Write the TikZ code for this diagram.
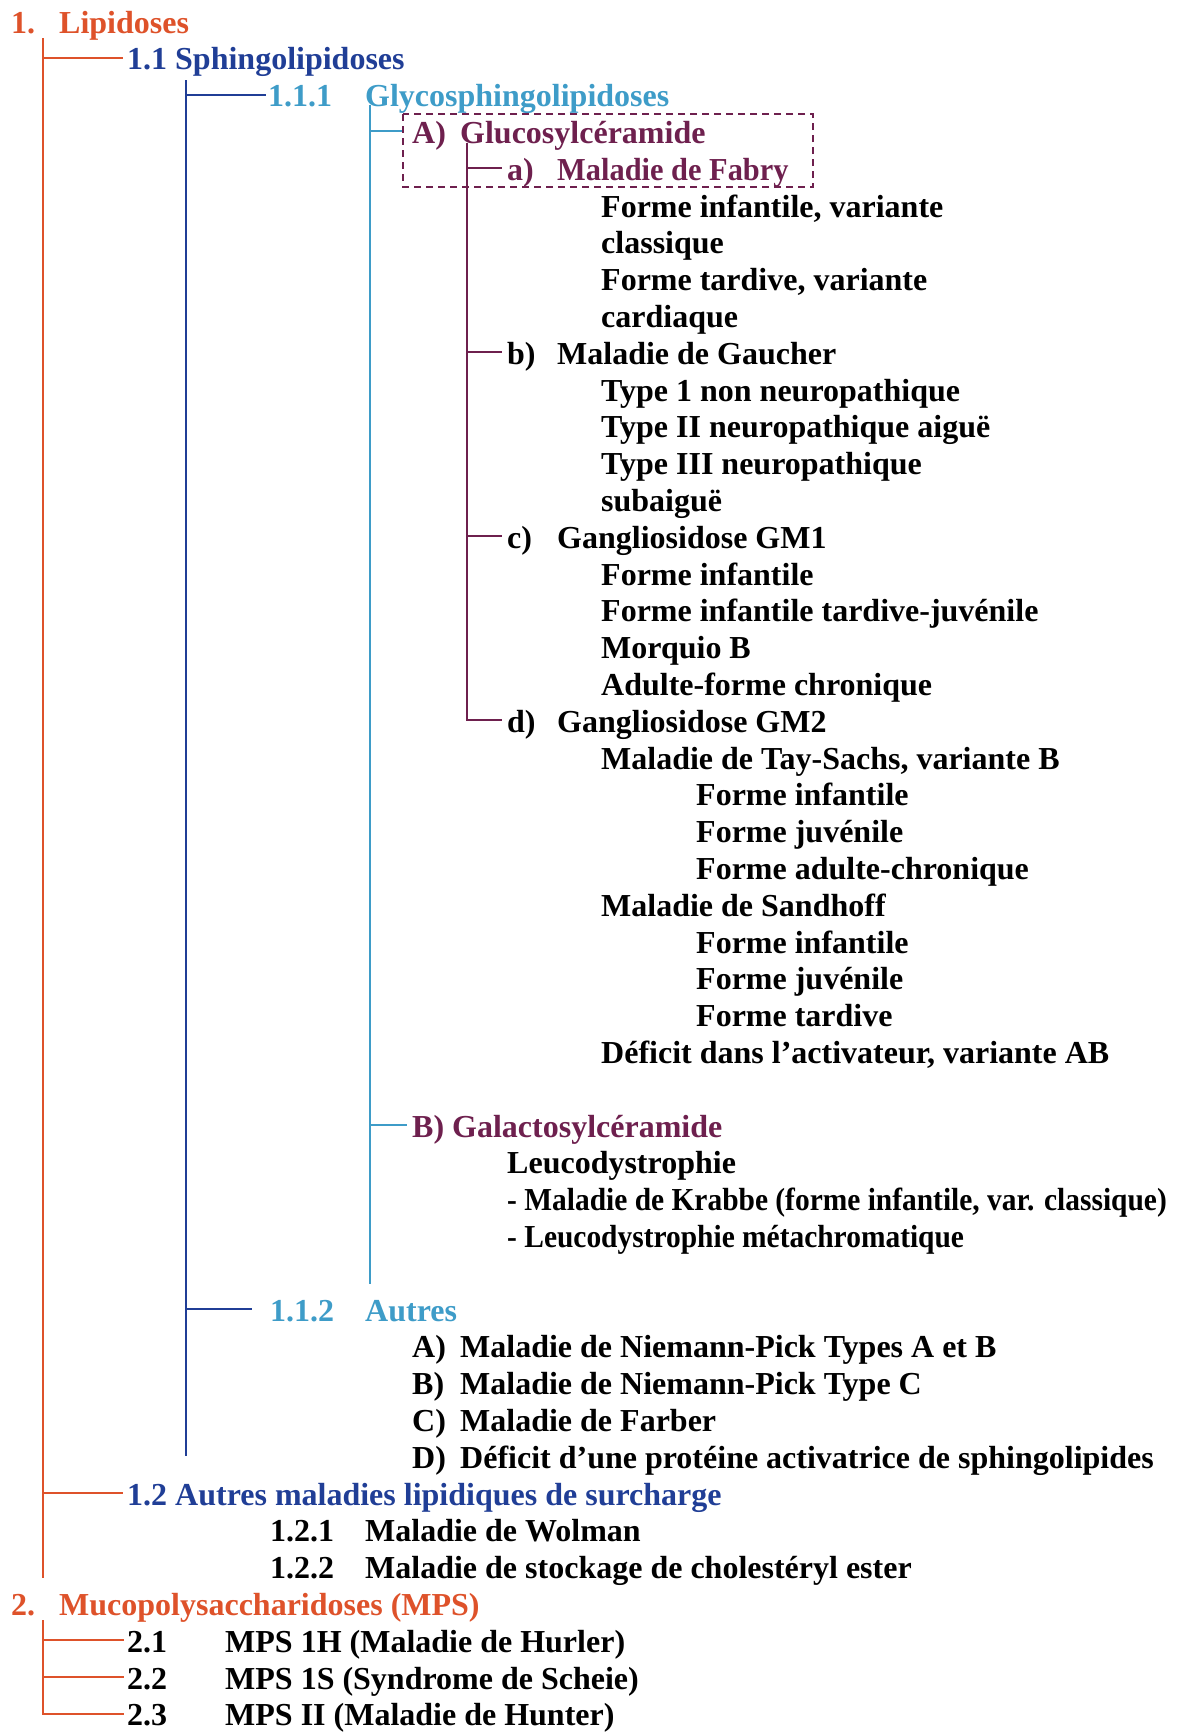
\documentclass[tikz,border=0pt]{standalone}
\usepackage{fontspec}
\setmainfont{Liberation Serif}
\usetikzlibrary{calc}

\definecolor{lvlone}{RGB}{222,82,42}
\definecolor{lvltwo}{RGB}{32,62,150}
\definecolor{lvlthree}{RGB}{62,156,200}
\definecolor{lvlfour}{RGB}{110,32,78}

\begin{document}
\begin{tikzpicture}[x=1pt, y=-1pt,
    entry/.style={anchor=base west, inner sep=0pt, text height=24pt,
        text depth=0pt, font=\fontsize{32}{37}\selectfont\bfseries},
    narrowentry/.style={entry,
        font=\fontsize{32}{37}\selectfont\bfseries\addfontfeatures{FakeStretch=#1}},
    narrowentry/.default=0.92,
    branch/.style={line width=2pt}]

    \useasboundingbox (0,0) rectangle (1184,1735);

    % Baseline of row k is \rowzero + k*\rowgap
    \pgfmathsetmacro{\rowzero}{33}
    \pgfmathsetmacro{\rowgap}{36.8}

    % Level 1 and 1.1
    \node[entry, text=lvlone] (numOne) at (11, \rowzero) {1.};
    \node[entry, text=lvlone] (lipid) at (59, \rowzero) {Lipidoses};
    \node[entry, text=lvltwo] (sphingo) at (127, \rowzero+1*\rowgap) {1.1 Sphingolipidoses};
    \node[entry, text=lvlthree] (numGlyco) at (268, \rowzero+2*\rowgap) {1.1.1};
    \node[entry, text=lvlthree] (glyco) at (365, \rowzero+2*\rowgap) {Glycosphingolipidoses};

    % A) Glucosylceramide
    \node[entry, text=lvlfour] (letA) at (412, \rowzero+3*\rowgap) {A)};
    \node[entry, text=lvlfour] (gluco) at (460, \rowzero+3*\rowgap) {Glucosylcéramide};

    \node[entry, text=lvlfour] (leta) at (507, \rowzero+4*\rowgap) {a)};
    \node[narrowentry=0.95, text=lvlfour] (fabry) at (557, \rowzero+4*\rowgap) {Maladie de Fabry};
    \node[entry] (fabryA) at (601, \rowzero+5*\rowgap) {Forme infantile, variante};
    \node[entry] (fabryB) at (601, \rowzero+6*\rowgap) {classique};
    \node[entry] (fabryC) at (601, \rowzero+7*\rowgap) {Forme tardive, variante};
    \node[entry] (fabryD) at (601, \rowzero+8*\rowgap) {cardiaque};

    \node[entry] (letb) at (507, \rowzero+9*\rowgap) {b)};
    \node[entry] (gaucher) at (557, \rowzero+9*\rowgap) {Maladie de Gaucher};
    \node[entry] (gaucherA) at (601, \rowzero+10*\rowgap) {Type 1 non neuropathique};
    \node[entry] (gaucherB) at (601, \rowzero+11*\rowgap) {Type II neuropathique aiguë};
    \node[entry] (gaucherC) at (601, \rowzero+12*\rowgap) {Type III neuropathique};
    \node[entry] (gaucherD) at (601, \rowzero+13*\rowgap) {subaiguë};

    \node[entry] (letc) at (507, \rowzero+14*\rowgap) {c)};
    \node[entry] (gmOne) at (557, \rowzero+14*\rowgap) {Gangliosidose GM1};
    \node[entry] (gmOneA) at (601, \rowzero+15*\rowgap) {Forme infantile};
    \node[entry] (gmOneB) at (601, \rowzero+16*\rowgap) {Forme infantile tardive-juvénile};
    \node[entry] (gmOneC) at (601, \rowzero+17*\rowgap) {Morquio B};
    \node[entry] (gmOneD) at (601, \rowzero+18*\rowgap) {Adulte-forme chronique};

    \node[entry] (letd) at (507, \rowzero+19*\rowgap) {d)};
    \node[entry] (gmTwo) at (557, \rowzero+19*\rowgap) {Gangliosidose GM2};
    \node[entry] (taySachs) at (601, \rowzero+20*\rowgap) {Maladie de Tay-Sachs, variante B};
    \node[entry] (taySachsA) at (696, \rowzero+21*\rowgap) {Forme infantile};
    \node[entry] (taySachsB) at (696, \rowzero+22*\rowgap) {Forme juvénile};
    \node[entry] (taySachsC) at (696, \rowzero+23*\rowgap) {Forme adulte-chronique};
    \node[entry] (sandhoff) at (601, \rowzero+24*\rowgap) {Maladie de Sandhoff};
    \node[entry] (sandhoffA) at (696, \rowzero+25*\rowgap) {Forme infantile};
    \node[entry] (sandhoffB) at (696, \rowzero+26*\rowgap) {Forme juvénile};
    \node[entry] (sandhoffC) at (696, \rowzero+27*\rowgap) {Forme tardive};
    \node[entry] (activ) at (601, \rowzero+28*\rowgap) {Déficit dans l’activateur, variante AB};

    % B) Galactosylceramide
    \node[entry, text=lvlfour] (galacto) at (412, \rowzero+30*\rowgap) {B) Galactosylcéramide};
    \node[entry] (leuco) at (507, \rowzero+31*\rowgap) {Leucodystrophie};
    \node[narrowentry] (krabbe) at (507, \rowzero+32*\rowgap) {- Maladie de Krabbe (forme infantile, var. classique)};
    \node[narrowentry] (metachro) at (507, \rowzero+33*\rowgap) {- Leucodystrophie métachromatique};

    % 1.1.2 Autres
    \node[entry, text=lvlthree] (numAutres) at (270, \rowzero+35*\rowgap) {1.1.2};
    \node[entry, text=lvlthree] (autres) at (365, \rowzero+35*\rowgap) {Autres};
    \node[entry] (letNA) at (412, \rowzero+36*\rowgap) {A)};
    \node[entry] (niemannAB) at (460, \rowzero+36*\rowgap) {Maladie de Niemann-Pick Types A et B};
    \node[entry] (letNB) at (412, \rowzero+37*\rowgap) {B)};
    \node[entry] (niemannC) at (460, \rowzero+37*\rowgap) {Maladie de Niemann-Pick Type C};
    \node[entry] (letNC) at (412, \rowzero+38*\rowgap) {C)};
    \node[entry] (farber) at (460, \rowzero+38*\rowgap) {Maladie de Farber};
    \node[entry] (letND) at (412, \rowzero+39*\rowgap) {D)};
    \node[entry] (sapDef) at (460, \rowzero+39*\rowgap) {Déficit d’une protéine activatrice de sphingolipides};

    % 1.2 Autres maladies
    \node[entry, text=lvltwo] (surcharge) at (127, \rowzero+40*\rowgap) {1.2 Autres maladies lipidiques de surcharge};
    \node[entry] (numWolman) at (270, \rowzero+41*\rowgap) {1.2.1};
    \node[entry] (wolman) at (365, \rowzero+41*\rowgap) {Maladie de Wolman};
    \node[entry] (numChol) at (270, \rowzero+42*\rowgap) {1.2.2};
    \node[entry] (chol) at (365, \rowzero+42*\rowgap) {Maladie de stockage de cholestéryl ester};

    % 2. MPS
    \node[entry, text=lvlone] (numTwo) at (11, \rowzero+43*\rowgap) {2.};
    \node[entry, text=lvlone] (mps) at (59, \rowzero+43*\rowgap) {Mucopolysaccharidoses (MPS)};
    \node[entry] (numHurler) at (127, \rowzero+44*\rowgap) {2.1};
    \node[entry] (hurler) at (225, \rowzero+44*\rowgap) {MPS 1H (Maladie de Hurler)};
    \node[entry] (numScheie) at (127, \rowzero+45*\rowgap) {2.2};
    \node[entry] (scheie) at (225, \rowzero+45*\rowgap) {MPS 1S (Syndrome de Scheie)};
    \node[entry] (numHunter) at (127, \rowzero+46*\rowgap) {2.3};
    \node[entry] (hunter) at (225, \rowzero+46*\rowgap) {MPS II (Maladie de Hunter)};

    % Trunks of the tree
    \coordinate (trunkOne) at (43, 38);
    \coordinate (trunkOneEnd) at (43, 1578);
    \coordinate (trunkTwo) at (186, 80);
    \coordinate (trunkTwoEnd) at (186, 1456);
    \coordinate (trunkThree) at (370, 105);
    \coordinate (trunkThreeEnd) at (370, 1284);
    \coordinate (trunkFour) at (467, 143);
    \coordinate (trunkMps) at (43, 1620);

    \begin{scope}[branch, lvlone]
        \draw (trunkOne) -- (trunkOneEnd);
        \draw (trunkOne |- sphingo.west) -- ([xshift=-4pt]sphingo.west);
        \draw (trunkOne |- surcharge.west) -- ([xshift=-4pt]surcharge.west);
        \draw (trunkMps) |- ([xshift=-3pt]numHunter.west);
        \draw (trunkMps |- numHurler.west) -- ([xshift=-3pt]numHurler.west);
        \draw (trunkMps |- numScheie.west) -- ([xshift=-3pt]numScheie.west);
    \end{scope}

    \begin{scope}[branch, lvltwo]
        \draw (trunkTwo) -- (trunkTwoEnd);
        \draw (trunkTwo |- numGlyco.west) -- ([xshift=-2pt]numGlyco.west);
        \draw (trunkTwo |- numAutres.west) -- ([xshift=-18pt]numAutres.west);
    \end{scope}

    \begin{scope}[branch, lvlthree]
        \draw (trunkThree) -- (trunkThreeEnd);
        \draw (trunkThree |- letA.west) -- ([xshift=-9pt]letA.west);
        \draw (trunkThree |- galacto.west) -- ([xshift=-5pt]galacto.west);
    \end{scope}

    \begin{scope}[branch, lvlfour]
        \draw (trunkFour) |- ([xshift=-5pt]letd.west);
        \draw (trunkFour |- leta.west) -- ([xshift=-5pt]leta.west);
        \draw (trunkFour |- letb.west) -- ([xshift=-5pt]letb.west);
        \draw (trunkFour |- letc.west) -- ([xshift=-5pt]letc.west);
    \end{scope}

    % Dashed frame round Glucosylceramide and Fabry
    \draw[lvlfour, line width=1.8pt, dash pattern=on 7pt off 5pt]
        (403, 114) rectangle (813, 187);

\end{tikzpicture}
\end{document}
